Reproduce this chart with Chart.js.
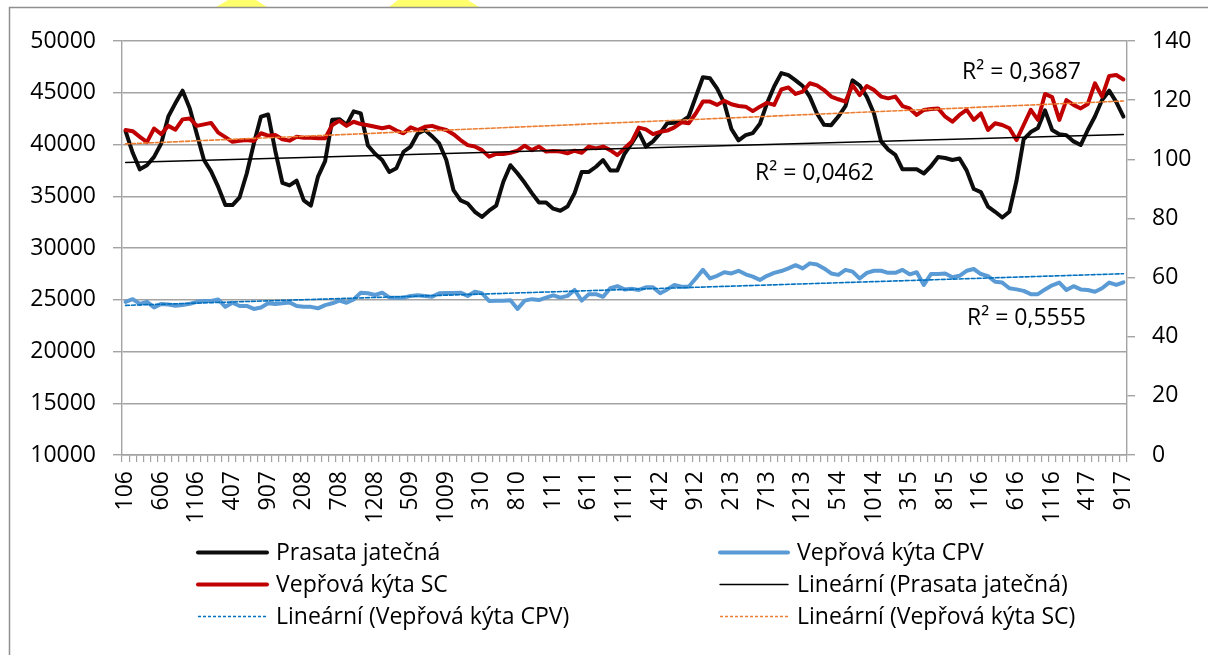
<!DOCTYPE html>
<html><head><meta charset="utf-8">
<script src="https://cdn.jsdelivr.net/npm/chart.js@4.4.0/dist/chart.umd.min.js"></script>
<style>html,body{margin:0;padding:0;background:#fff}#wrap{position:relative;width:1208px;height:655px}</style>
</head><body><div id="wrap"><canvas id="c" width="1208" height="655"></canvas></div>
<script>
const categories = [
"106","206","306","406","506","606","706","806","906","1006","1106","1206",
"107","207","307","407","507","607","707","807","907","1007","1107","1207",
"108","208","308","408","508","608","708","808","908","1008","1108","1208",
"109","209","309","409","509","609","709","809","909","1009","1109","1209",
"110","210","310","410","510","610","710","810","910","1010","1110","1210",
"111","211","311","411","511","611","711","811","911","1011","1111","1211",
"112","212","312","412","512","612","712","812","912","1012","1112","1212",
"113","213","313","413","513","613","713","813","913","1013","1113","1213",
"114","214","314","414","514","614","714","814","914","1014","1114","1214",
"115","215","315","415","515","615","715","815","915","1015","1115","1215",
"116","216","316","416","516","616","716","816","916","1016","1116","1216",
"117","217","317","417","517","617","717","817","917"];

const tickLabels = ["106","606","1106","407","907","208","708","1208","509","1009","310","810","111","611","1111","412","912","213","713","1213","514","1014","315","815","116","616","1116","417","917"];

const seriesNames = ["Prasata jatečná","Vepřová kýta CPV","Vepřová kýta SC"];
const trendNames = ["Lineární (Prasata jatečná)","Lineární (Vepřová kýta CPV)","Lineární (Vepřová kýta SC)"];

const prasataJatecna = [41300,39200,37600,38000,38800,40100,42700,44000,45200,43500,
41000,38500,37400,35900,34150,34150,34900,37200,40100,42700,
42900,39400,36300,36050,36500,34600,34100,36900,38400,42400,
42450,41900,43200,43000,39900,39100,38500,37350,37700,39300,
39800,41070,41400,40800,40100,38500,35600,34600,34300,33500,
33000,33600,34100,36400,38000,37200,36300,35300,34400,34400,
33800,33600,34000,35300,37350,37350,37850,38500,37500,37500,
39100,40100,41200,39800,40300,41100,42050,42100,42200,42700,
44600,46500,46400,45400,44000,41500,40400,40900,41100,42000,
44000,45600,46900,46700,46200,45650,44600,43000,41900,41870,
42700,43700,46200,45700,44600,43000,40300,39500,39000,37600,
37600,37600,37200,37900,38800,38700,38500,38650,37500,35700,
35400,34000,33500,32950,33500,36500,40500,41200,41600,43300,
41400,41000,40900,40300,39950,41400,42700,44300,45200,44100,
42700];

const vepKytaCPV = [51.8,52.7,51.1,51.8,49.9,51.1,50.9,50.5,50.7,51.1,
51.8,52.1,52.1,52.6,50.1,51.5,50.4,50.4,49.4,49.9,
51.3,51.1,51.3,51.6,50.4,50.1,50.1,49.6,50.7,51.3,
52.2,51.5,52.6,54.9,54.7,54.1,54.9,53.3,53.2,53.2,
53.8,54.0,53.8,53.5,54.7,54.8,54.8,54.9,53.8,55.2,
54.7,52.1,52.2,52.2,52.3,49.4,52.2,52.7,52.4,53.2,
54.0,53.2,53.8,55.8,52.2,54.4,54.4,53.5,56.4,57.1,
56.0,56.2,55.8,56.7,56.7,54.7,56.0,57.5,56.9,56.9,
59.7,62.6,59.7,60.6,61.8,61.4,62.3,61.1,60.3,59.2,
60.6,61.6,62.2,63.1,64.2,63.1,64.8,64.4,63.1,61.4,
60.9,62.6,62.0,59.7,61.6,62.3,62.3,61.6,61.6,62.6,
61.1,61.8,57.5,61.2,61.2,61.4,60.1,60.6,62.3,62.9,
61.2,60.5,58.6,58.3,56.4,56.0,55.5,54.4,54.4,56.0,
57.4,58.3,55.8,57.1,56.0,55.8,55.2,56.4,58.3,57.5,
58.4];

const vepKytaSC = [109.9,109.5,107.6,105.8,110.4,108.5,111.3,110.0,113.5,113.8,
111.3,111.8,112.3,109.0,107.5,105.9,106.3,106.5,106.2,108.8,
108.0,108.2,106.8,106.3,107.6,107.3,107.3,107.1,107.1,111.6,
113.0,111.3,112.7,111.9,111.5,111.0,110.5,111.0,109.7,108.8,
110.8,109.9,111.0,111.3,110.5,109.9,108.5,106.5,104.8,104.3,
103.1,100.9,101.8,101.8,102.2,102.9,104.6,103.1,104.3,102.6,
102.8,102.6,102.0,102.9,102.2,104.3,103.7,104.3,103.1,101.4,
103.7,105.9,110.7,110.1,108.5,109.3,109.7,110.8,112.5,112.2,
115.5,119.5,119.5,118.4,119.8,118.6,118.0,117.8,116.3,117.8,
119.1,118.4,123.6,124.3,122.1,122.9,125.7,125.0,123.4,121.2,
120.3,119.5,125.1,121.7,124.8,123.4,121.2,120.6,121.2,118.0,
117.2,115.0,116.7,117.0,117.2,114.4,112.7,115.0,116.7,113.3,
115.5,109.9,112.2,111.6,110.5,106.5,111.6,116.7,113.3,122.1,
121.0,113.3,120.0,118.4,117.2,118.7,125.7,121.2,128.2,128.5,
127.0];

// trendline end values [first month, last month]
const trendPrasata = [38260, 40970];
const trendCPV = [50.6, 61.3];
const trendSC = [105.2, 119.7];

const rSquaredTexts = ["R² = 0,0462", "R² = 0,3687", "R² = 0,5555"];

const FONT = '"Open Sans", "Noto Sans", sans-serif';
const GRID = '#a3a3a3';
const TXT = '#000000';

function trendPts(v){ return [{x: categories[0], y: v[0]}, {x: categories[categories.length-1], y: v[1]}]; }

const datasets = [
  {label: seriesNames[0], data: prasataJatecna, yAxisID:'y', borderColor:'#0d0d0d', borderWidth:4, order:5},
  {label: seriesNames[1], data: vepKytaCPV, yAxisID:'y1', borderColor:'#5b9bd5', borderWidth:4, order:4},
  {label: seriesNames[2], data: vepKytaSC, yAxisID:'y1', borderColor:'#c00000', borderWidth:4, order:3},
  {label: trendNames[0], data: trendPts(trendPrasata), yAxisID:'y', borderColor:'#000000', borderWidth:1.4, order:2},
  {label: trendNames[1], data: trendPts(trendCPV), yAxisID:'y1', borderColor:'#0070c0', borderWidth:1.6, borderDash:[4,2], order:1},
  {label: trendNames[2], data: trendPts(trendSC), yAxisID:'y1', borderColor:'#ed7d31', borderWidth:1.6, borderDash:[4,2], order:0}
];

const framePlugin = {
  id:'frame',
  beforeDraw(chart){
    const ctx = chart.ctx;
    ctx.save();
    ctx.fillStyle = '#ffffff';
    ctx.fillRect(0,0,chart.width,chart.height);
    ctx.fillStyle = '#ffff6e';
    ctx.beginPath(); ctx.moveTo(228,0); ctx.lineTo(256,0); ctx.lineTo(267,7); ctx.lineTo(216,7); ctx.closePath(); ctx.fill();
    ctx.beginPath(); ctx.moveTo(398,0); ctx.lineTo(468,0); ctx.lineTo(479,7); ctx.lineTo(389,7); ctx.closePath(); ctx.fill();
    ctx.strokeStyle = '#8f8f8f';
    ctx.lineWidth = 1.5;
    ctx.beginPath(); ctx.moveTo(9.5, chart.height); ctx.lineTo(9.5, 7.5); ctx.lineTo(chart.width, 7.5); ctx.stroke();
    ctx.restore();
  }
};

const annotPlugin = {
  id:'annot',
  afterDraw(chart){
    const ctx = chart.ctx;
    ctx.save();
    ctx.font = '23px ' + FONT;
    ctx.fillStyle = TXT;
    ctx.textBaseline = 'alphabetic';
    ctx.textAlign = 'left';
    ctx.fillText(rSquaredTexts[0], 755, 180);
    ctx.fillText(rSquaredTexts[1], 962, 79);
    ctx.fillText(rSquaredTexts[2], 967, 325);
    const cols = [{lx:198, lw:69, tx:276},{lx:720, lw:68, tx:797}];
    const rows = [560, 592, 624];
    const ds = chart.data.datasets;
    const order = [0,1,2,3,4,5];
    order.forEach((di, k) => {
      const c = cols[k % 2], by = rows[Math.floor(k/2)];
      const d = ds[di];
      const ly = by - 7.5;
      ctx.save();
      ctx.strokeStyle = d.borderColor;
      ctx.lineWidth = d.borderWidth;
      ctx.setLineDash(d.borderDash ? [3,2] : []);
      ctx.lineCap = d.borderDash ? 'butt' : 'round';
      ctx.beginPath(); ctx.moveTo(c.lx, ly); ctx.lineTo(c.lx + c.lw, ly); ctx.stroke();
      ctx.restore();
      ctx.fillText(d.label, c.tx, by);
    });
    ctx.restore();
  }
};

new Chart(document.getElementById('c'), {
  type:'line',
  data:{labels: categories, datasets: datasets},
  plugins:[framePlugin, annotPlugin],
  options:{
    responsive:false, animation:false, devicePixelRatio:1,
    layout:{padding:{top:41,left:0,right:0,bottom:0}},
    plugins:{legend:{display:false}, tooltip:{enabled:false}},
    elements:{point:{radius:0}, line:{tension:0, borderJoinStyle:'round', borderCapStyle:'round', fill:false}},
    scales:{
      x:{type:'category', offset:true, position:'bottom',
        grid:{offset:true, drawOnChartArea:false, drawTicks:true, tickLength:7, color:GRID, lineWidth:1.2},
        border:{display:true, color:GRID, width:1.4},
        ticks:{autoSkip:false, maxRotation:90, minRotation:90, padding:9, color:TXT, font:{family:FONT, size:23},
          callback:function(v){ const l = this.getLabelForValue(v); return tickLabels.includes(l) ? l : ''; }},
        afterFit:(s)=>{ s.height = 200; }
      },
      y:{position:'left', min:10000, max:50000,
        ticks:{stepSize:5000, padding:17, color:TXT, font:{family:FONT, size:23}, callback:(v)=>String(v)},
        grid:{color:GRID, lineWidth:1.4, drawTicks:true, tickLength:9},
        border:{display:true, color:GRID, width:1.4},
        afterFit:(s)=>{ s.width = 122; }
      },
      y1:{position:'right', min:0, max:140,
        ticks:{stepSize:20, padding:17, color:TXT, font:{family:FONT, size:23}, callback:(v)=>String(v)},
        grid:{drawOnChartArea:false, color:GRID, lineWidth:1.4, drawTicks:true, tickLength:8},
        border:{display:true, color:GRID, width:1.4},
        afterFit:(s)=>{ s.width = 81; }
      }
    }
  }
});
</script></body></html>
